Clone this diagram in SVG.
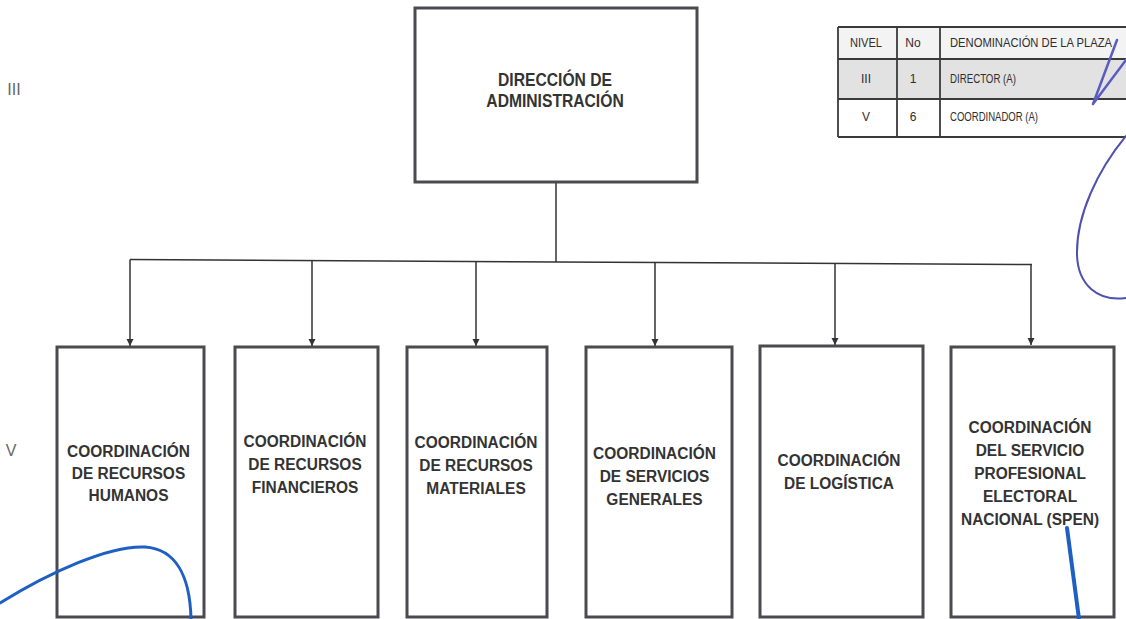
<svg xmlns="http://www.w3.org/2000/svg" width="1126" height="619" viewBox="0 0 1126 619">
  <style>
    .box { fill: #ffffff; stroke: #4a4a50; stroke-width: 3; }
    .lbl { font-family: "Liberation Sans", Arial, sans-serif; font-weight: bold; fill: #333333; text-anchor: middle; }
    .lbl16 { font-size: 17px; }
    .lbl18 { font-size: 18px; }
    .lvl { font-family: "Liberation Sans", Arial, sans-serif; font-size: 16px; fill: #666666; text-anchor: middle; }
    .link { fill: none; stroke: #333333; stroke-width: 1.5; }
    .cell { stroke: #3a3a3a; stroke-width: 1.8; }
    .tt { font-family: "Liberation Sans", Arial, sans-serif; font-size: 12px; fill: #2e2e2e; }
    .ttc { text-anchor: middle; }
    .ink { fill: none; stroke-linecap: round; stroke-linejoin: round; }
  </style>
  <defs>
    <marker id="arrow" viewBox="0 0 10 10" refX="10" refY="5" markerWidth="7" markerHeight="9" markerUnits="userSpaceOnUse" orient="auto">
      <path d="M0,0 L10,5 L0,10 z" fill="#333333"/>
    </marker>
  </defs>

  <rect width="1126" height="619" fill="#ffffff"/>

  <!-- level labels -->
  <g id="levels">
    <text class="lvl" x="14" y="95">III</text>
    <text class="lvl" x="11" y="456">V</text>
  </g>

  <!-- connectors -->
  <g id="connectors">
    <path class="link" d="M556,182 L556,262"/>
    <path class="link" d="M130,259.5 L556,262 L1032,264.5"/>
    <path class="link" d="M130,259.5 L130,346" marker-end="url(#arrow)"/>
    <path class="link" d="M312,260.5 L312,346" marker-end="url(#arrow)"/>
    <path class="link" d="M476,261.5 L476,346" marker-end="url(#arrow)"/>
    <path class="link" d="M655,262.5 L655,346" marker-end="url(#arrow)"/>
    <path class="link" d="M835,263.5 L835,345" marker-end="url(#arrow)"/>
    <path class="link" d="M1031,264.5 L1031,345" marker-end="url(#arrow)"/>
  </g>

  <!-- top node -->
  <g id="direccion">
    <rect class="box" x="415" y="8" width="282" height="174"/>
    <g transform="translate(555,0) scale(0.87,1)">
      <text class="lbl lbl18" x="0" y="86">DIRECCIÓN DE</text>
      <text class="lbl lbl18" x="0" y="107">ADMINISTRACIÓN</text>
    </g>
  </g>

  <!-- second-level nodes -->
  <g id="rrhh">
    <rect class="box" x="57" y="347" width="147" height="270"/>
    <g transform="translate(128.5,0) scale(0.91,1)">
      <text class="lbl lbl16" x="0" y="457">COORDINACIÓN</text>
      <text class="lbl lbl16" x="0" y="479">DE RECURSOS</text>
      <text class="lbl lbl16" x="0" y="501">HUMANOS</text>
    </g>
  </g>

  <g id="rrff">
    <rect class="box" x="235" y="347" width="143" height="270"/>
    <g transform="translate(305,0) scale(0.91,1)">
      <text class="lbl lbl16" x="0" y="447">COORDINACIÓN</text>
      <text class="lbl lbl16" x="0" y="470">DE RECURSOS</text>
      <text class="lbl lbl16" x="0" y="493">FINANCIEROS</text>
    </g>
  </g>

  <g id="rrmm">
    <rect class="box" x="407" y="347" width="140" height="270"/>
    <g transform="translate(476,0) scale(0.91,1)">
      <text class="lbl lbl16" x="0" y="448">COORDINACIÓN</text>
      <text class="lbl lbl16" x="0" y="471">DE RECURSOS</text>
      <text class="lbl lbl16" x="0" y="494">MATERIALES</text>
    </g>
  </g>

  <g id="servicios">
    <rect class="box" x="586" y="347" width="146" height="270"/>
    <g transform="translate(654.5,0) scale(0.91,1)">
      <text class="lbl lbl16" x="0" y="459">COORDINACIÓN</text>
      <text class="lbl lbl16" x="0" y="482">DE SERVICIOS</text>
      <text class="lbl lbl16" x="0" y="505">GENERALES</text>
    </g>
  </g>

  <g id="logistica">
    <rect class="box" x="760" y="346" width="163" height="271"/>
    <g transform="translate(839,0) scale(0.91,1)">
      <text class="lbl lbl16" x="0" y="466">COORDINACIÓN</text>
      <text class="lbl lbl16" x="0" y="489">DE LOGÍSTICA</text>
    </g>
  </g>

  <g id="spen">
    <rect class="box" x="951" y="347" width="163" height="270"/>
    <g transform="translate(1030,0) scale(0.91,1)">
      <text class="lbl lbl16" x="0" y="433">COORDINACIÓN</text>
      <text class="lbl lbl16" x="0" y="456">DEL SERVICIO</text>
      <text class="lbl lbl16" x="0" y="479">PROFESIONAL</text>
      <text class="lbl lbl16" x="0" y="502">ELECTORAL</text>
      <text class="lbl lbl16" x="0" y="525">NACIONAL (SPEN)</text>
    </g>
  </g>

  <!-- staffing table -->
  <g id="plazas">
    <rect x="838" y="27" width="300" height="32" fill="#f3f3f3"/>
    <rect x="838" y="59" width="300" height="40" fill="#e2e2e2"/>
    <rect x="838" y="99" width="300" height="38" fill="#ffffff"/>
    <line class="cell" x1="838" y1="27" x2="1126" y2="27"/>
    <line class="cell" x1="838" y1="59" x2="1126" y2="59"/>
    <line class="cell" x1="838" y1="99" x2="1126" y2="99"/>
    <line class="cell" x1="838" y1="137" x2="1126" y2="137"/>
    <line class="cell" x1="838" y1="27" x2="838" y2="137"/>
    <line class="cell" x1="897" y1="27" x2="897" y2="137"/>
    <line class="cell" x1="940" y1="27" x2="940" y2="137"/>
    <text class="tt ttc" x="866" y="47" textLength="32" lengthAdjust="spacingAndGlyphs">NIVEL</text>
    <text class="tt ttc" x="913" y="47">No</text>
    <text class="tt" x="950" y="47" textLength="162" lengthAdjust="spacingAndGlyphs">DENOMINACIÓN DE LA PLAZA</text>
    <text class="tt ttc" x="866" y="83">III</text>
    <text class="tt ttc" x="913" y="83">1</text>
    <text class="tt" x="950" y="83" textLength="66" lengthAdjust="spacingAndGlyphs">DIRECTOR (A)</text>
    <text class="tt ttc" x="866" y="121">V</text>
    <text class="tt ttc" x="913" y="121">6</text>
    <text class="tt" x="950" y="121" textLength="88" lengthAdjust="spacingAndGlyphs">COORDINADOR (A)</text>
  </g>

  <!-- pen strokes -->
  <g id="ink">
    <path class="ink" d="M1093,104 L1117,40 M1093,104 L1126,60" stroke="#5b5cc0" stroke-width="2.5"/>
    <path class="ink" d="M1126,136 C1098,170 1076,215 1077,255 C1078,285 1098,302 1126,298" stroke="#5050b0" stroke-width="2"/>
    <path class="ink" d="M0,603 C50,572 110,545 145,547 C175,549 190,575 191,619" stroke="#1e5fc4" stroke-width="3"/>
    <path class="ink" d="M1067,528 L1079,619" stroke="#1e5fc4" stroke-width="4"/>
  </g>
</svg>
